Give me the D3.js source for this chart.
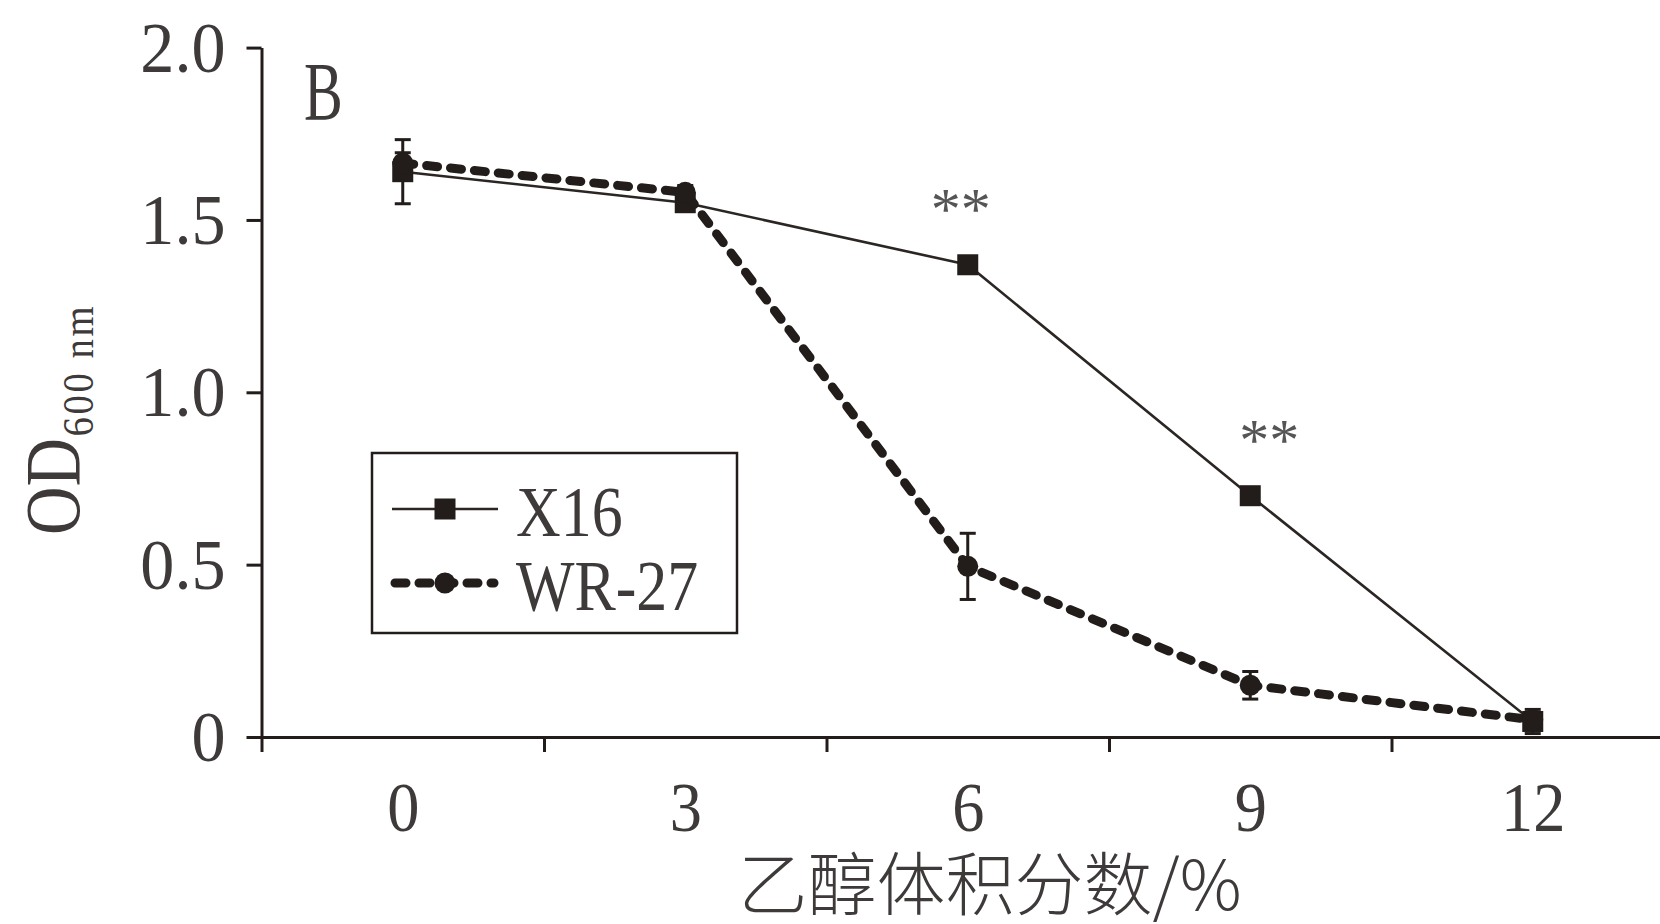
<!DOCTYPE html>
<html>
<head>
<meta charset="utf-8">
<script src="https://cdn.jsdelivr.net/npm/d3@7"></script>
<style>
  html, body { margin: 0; padding: 0; background: #fff; }
  svg { display: block; }
  .serif { font-family: "Liberation Serif", "Times New Roman", serif; }
</style>
</head>
<body>
<svg id="chart" width="1660" height="924"></svg>
<script>
// Ethanol volume fraction (%) on the x axis
const ethanolPct = [0, 3, 6, 9, 12];

// OD600 of strain X16 (mean and SD)
const x16Mean = [1.64, 1.55, 1.37, 0.70, 0.045];
const x16Sd   = [0.093, 0.02, 0.015, 0.015, 0.035];

// OD600 of strain WR-27 (mean and SD)
const wr27Mean = [1.665, 1.58, 0.495, 0.15, 0.05];
const wr27Sd   = [0.03, 0.02, 0.096, 0.04, 0.02];

// Axis ticks
const yTickValues = [0, 0.5, 1.0, 1.5, 2.0];
const yTickLabels = ["0", "0.5", "1.0", "1.5", "2.0"];
const xLabelValues = [0, 3, 6, 9, 12];
const xMinorTicks = [-1.5, 1.5, 4.5, 7.5, 10.5, 13.5];

// Significance marks (X16 vs WR-27)
const sigAt = [6, 9];
const sigText = ["**", "**"];

const seriesNames = ["X16", "WR-27"];

// ---- layout ----
const INK = "#221d1a";
const TEXT = "#3d3a39";
const sigNudge = [-7, 19];

const svg = d3.select("#chart");
svg.append("rect").attr("width", 1660).attr("height", 924).attr("fill", "#fff");

const x = d3.scaleLinear().domain([-1.5, 13.5]).range([261.5, 1674]);
const y = d3.scaleLinear().domain([0, 2]).range([737, 47.6]);

// y axis
const gy = svg.append("g")
  .attr("transform", `translate(${x(-1.5)},0)`)
  .call(d3.axisLeft(y).tickValues(yTickValues).tickSize(15).tickSizeOuter(0)
    .tickFormat((d, i) => yTickLabels[i]));
gy.select(".domain").attr("stroke", INK).attr("stroke-width", 3);
gy.selectAll(".tick line").attr("stroke", INK).attr("stroke-width", 3);
gy.selectAll(".tick text")
  .attr("class", "serif")
  .attr("x", null)
  .attr("dy", "0.33em")
  .attr("transform", `translate(-36,0) scale(0.96,1)`)
  .attr("font-size", 71)
  .attr("fill", TEXT);

// x axis with minor ticks between the labelled values
const gx = svg.append("g")
  .attr("transform", `translate(0,${y(0)})`)
  .call(d3.axisBottom(x).tickValues(xMinorTicks).tickSize(15).tickSizeOuter(0).tickFormat(""));
gx.select(".domain").attr("stroke", INK).attr("stroke-width", 3);
gx.selectAll(".tick line").attr("stroke", INK).attr("stroke-width", 3);

const gxl = svg.append("g")
  .attr("transform", `translate(0,${y(0)})`)
  .call(d3.axisBottom(x).tickValues(xLabelValues).tickSize(0).tickFormat(d3.format("d")));
gxl.select(".domain").remove();
gxl.selectAll(".tick text")
  .attr("class", "serif")
  .attr("y", null)
  .attr("dy", null)
  .attr("transform", `translate(0,94) scale(0.92,1)`)
  .attr("font-size", 70)
  .attr("fill", TEXT);

// axis titles
svg.append("text")
  .attr("x", 990).attr("y", 910)
  .attr("text-anchor", "middle")
  .attr("font-family", "'Noto Sans CJK SC', 'Liberation Serif', sans-serif")
  .attr("font-weight", 300)
  .attr("font-size", 69)
  .attr("fill", TEXT)
  .text("乙醇体积分数/%");

const yt = svg.append("text")
  .attr("class", "serif")
  .attr("transform", `translate(79,535) rotate(-90) scale(0.86,1)`)
  .attr("fill", TEXT);
yt.append("tspan").attr("font-size", 78).text("OD");
yt.append("tspan").attr("font-size", 45).attr("dy", 14).attr("dx", 2)
  .attr("letter-spacing", 3).text("600 nm");

// panel letter
svg.append("text")
  .attr("class", "serif")
  .attr("transform", `translate(304,119) scale(0.7,1)`)
  .attr("font-size", 83)
  .attr("fill", TEXT)
  .text("B");

// series
const x16 = ethanolPct.map((v, i) => ({ x: v, y: x16Mean[i], sd: x16Sd[i] }));
const wr27 = ethanolPct.map((v, i) => ({ x: v, y: wr27Mean[i], sd: wr27Sd[i] }));
const line = d3.line().x(d => x(d.x)).y(d => y(d.y));

function errorBars(data) {
  const g = svg.append("g").attr("stroke", INK).attr("stroke-width", 3);
  data.forEach(d => {
    g.append("line").attr("x1", x(d.x)).attr("x2", x(d.x))
      .attr("y1", y(d.y - d.sd)).attr("y2", y(d.y + d.sd));
    [d.y - d.sd, d.y + d.sd].forEach(v => {
      g.append("line").attr("x1", x(d.x) - 8).attr("x2", x(d.x) + 8)
        .attr("y1", y(v)).attr("y2", y(v));
    });
  });
}

// X16: thin solid line, square markers
svg.append("path").datum(x16)
  .attr("d", line).attr("fill", "none")
  .attr("stroke", "#2b2623").attr("stroke-width", 2.6);
errorBars(x16);
svg.append("g").selectAll("rect").data(x16).join("rect")
  .attr("x", d => x(d.x) - 10.5).attr("y", d => y(d.y) - 10.5)
  .attr("width", 21).attr("height", 21).attr("fill", INK);

// WR-27: heavy dashed line, circle markers
svg.append("path").datum(wr27)
  .attr("d", line).attr("fill", "none")
  .attr("stroke", INK).attr("stroke-width", 9)
  .attr("stroke-dasharray", "11 13").attr("stroke-linecap", "round");
errorBars(wr27);
svg.append("g").selectAll("circle").data(wr27).join("circle")
  .attr("cx", d => x(d.x)).attr("cy", d => y(d.y)).attr("r", 10.5).attr("fill", INK);

// significance marks above X16
sigAt.forEach((v, i) => {
  const idx = ethanolPct.indexOf(v);
  svg.append("text")
    .attr("class", "serif")
    .attr("x", x(v) + sigNudge[i]).attr("y", y(x16Mean[idx]) - 36)
    .attr("text-anchor", "middle")
    .attr("font-size", 60)
    .attr("fill", "#555")
    .text(sigText[i]);
});

// legend
const lg = svg.append("g");
lg.append("rect").attr("x", 372).attr("y", 453).attr("width", 365).attr("height", 180)
  .attr("fill", "#fff").attr("stroke", INK).attr("stroke-width", 2.5);
const rows = [509, 583];
lg.append("line").attr("x1", 392).attr("x2", 498).attr("y1", rows[0]).attr("y2", rows[0])
  .attr("stroke", "#2b2623").attr("stroke-width", 2.6);
lg.append("rect").attr("x", 445 - 10.5).attr("y", rows[0] - 10.5).attr("width", 21).attr("height", 21).attr("fill", INK);
lg.append("line").attr("x1", 395).attr("x2", 494).attr("y1", rows[1]).attr("y2", rows[1])
  .attr("stroke", INK).attr("stroke-width", 9)
  .attr("stroke-dasharray", "11 13").attr("stroke-linecap", "round");
lg.append("circle").attr("cx", 445).attr("cy", rows[1]).attr("r", 10.5).attr("fill", INK);
seriesNames.forEach((name, i) => {
  lg.append("text")
    .attr("class", "serif")
    .attr("transform", `translate(516,${rows[i] + 27}) scale(0.86,1)`)
    .attr("font-size", 72)
    .attr("fill", TEXT)
    .text(name);
});
</script>
</body>
</html>
